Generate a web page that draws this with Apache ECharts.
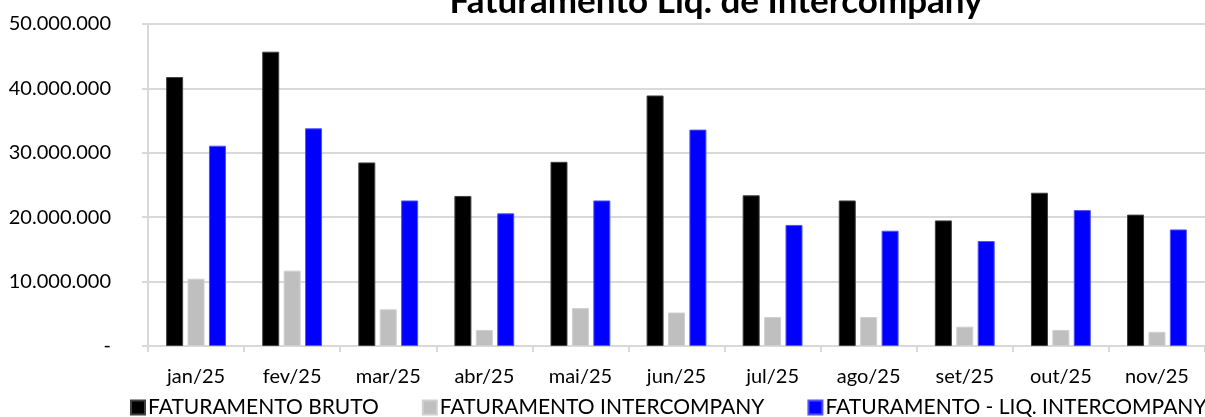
<!DOCTYPE html>
<html>
<head>
<meta charset="utf-8">
<script src="https://cdn.jsdelivr.net/npm/echarts@6/dist/echarts.min.js"></script>
<style>
    html, body { margin: 0; padding: 0; background: #fff; }
    #chart { width: 1205px; height: 417px; }
</style>
</head>
<body>
<div id="chart"></div>
<script>
const months = ["jan/25", "fev/25", "mar/25", "abr/25", "mai/25", "jun/25", "jul/25", "ago/25", "set/25", "out/25", "nov/25"];
// valores em R$
const bruto = [41760000, 45700000, 28500000, 23300000, 28600000, 38900000, 23400000, 22600000, 19500000, 23800000, 20400000];
const intercompany = [10450000, 11700000, 5700000, 2500000, 5900000, 5200000, 4500000, 4500000, 3000000, 2500000, 2200000];
const liquido = [31100000, 33800000, 22600000, 20600000, 22600000, 33600000, 18800000, 17900000, 16300000, 21100000, 18100000];
const yTicks = [0, 10000000, 20000000, 30000000, 40000000, 50000000];

const font = "Lato, 'Open Sans', sans-serif";

// 10000000 -> "10.000.000", 0 -> "-"
function fmt(v) {
    if (v === 0) return "-";
    return String(v).replace(/\B(?=(\d{3})+(?!\d))/g, ".");
}

const chart = echarts.init(document.getElementById("chart"), null, { renderer: "canvas" });

chart.setOption({
    animation: false,
    backgroundColor: "#fff",
    title: {
        text: "Faturamento Liq. de Intercompany",
        left: 711,
        textAlign: "center",
        top: -21,
        textStyle: { fontFamily: font, fontWeight: "bold", fontSize: 35, color: "#000" }
    },
    legend: {
        top: 397,
        left: 130,
        width: 1200,
        padding: 0,
        itemWidth: 14,
        itemHeight: 14,
        itemGap: 43,
        icon: "rect",
        textStyle: { fontFamily: font, fontSize: 21, color: "#000", padding: [0, 0, 0, -2] },
        data: ["FATURAMENTO BRUTO", "FATURAMENTO INTERCOMPANY", "FATURAMENTO - LIQ. INTERCOMPANY"]
    },
    grid: {
        left: 148,
        top: 24,
        width: 1066,
        bottom: 71,
        containLabel: false
    },
    xAxis: {
        type: "category",
        data: months,
        axisLine: { lineStyle: { color: "#d9d9d9", width: 2 } },
        axisTick: { show: true, length: 6, lineStyle: { color: "#d9d9d9", width: 2 } },
        axisLabel: { fontFamily: font, fontSize: 20, color: "#000", margin: 21 }
    },
    yAxis: {
        type: "value",
        min: yTicks[0],
        max: yTicks[yTicks.length - 1],
        interval: yTicks[1] - yTicks[0],
        axisLine: { show: true, lineStyle: { color: "#d9d9d9", width: 2 } },
        axisTick: { show: true, length: 6, lineStyle: { color: "#d9d9d9", width: 2 } },
        splitLine: { lineStyle: { color: "#d9d9d9", width: 2 } },
        axisLabel: { fontFamily: font, fontSize: 20, color: "#000", margin: 37, formatter: fmt }
    },
    series: [
        {
            name: "FATURAMENTO BRUTO",
            type: "bar",
            data: bruto,
            barWidth: 17,
            barGap: "26%",
            itemStyle: { color: "#000", borderColor: "#404040", borderWidth: 1 }
        },
        {
            name: "FATURAMENTO INTERCOMPANY",
            type: "bar",
            data: intercompany,
            barWidth: 17,
            barGap: "26%",
            itemStyle: { color: "#bfbfbf", borderColor: "#d0d0d0", borderWidth: 1 }
        },
        {
            name: "FATURAMENTO - LIQ. INTERCOMPANY",
            type: "bar",
            data: liquido,
            barWidth: 17,
            barGap: "26%",
            itemStyle: { color: "#0000ff", borderColor: "#5050ff", borderWidth: 1 }
        }
    ]
});
</script>
</body>
</html>
